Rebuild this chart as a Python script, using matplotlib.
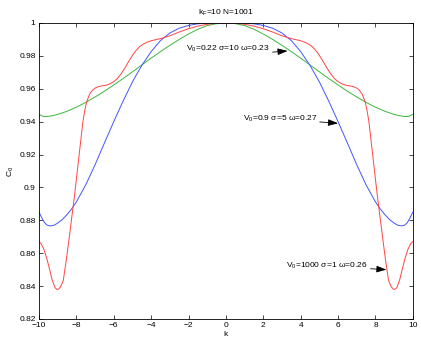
import matplotlib
matplotlib.use("Agg")
import matplotlib.pyplot as plt

plt.rcParams['font.family'] = ['Liberation Sans', 'DejaVu Sans']
plt.rcParams['mathtext.fontset'] = 'custom'
plt.rcParams['mathtext.rm'] = 'Liberation Sans'
plt.rcParams['mathtext.it'] = 'Liberation Sans'

# values (the curves are symmetric in k)
k_green = [-10, -9.75, -9.5, -9.25, -9, -8.5, -8, -7.5, -7, -6.5, -6, -5.5, -5, -4.5, -4, -3.5, -3,
           -2.5, -2, -1.5, -1, -0.5, 0,
           0.5, 1, 1.5, 2, 2.5, 3, 3.5, 4, 4.5, 5, 5.5, 6, 6.5, 7, 7.5, 8, 8.5, 9, 9.25, 9.5, 9.75, 10]
c_green = [0.9444, 0.9431, 0.9432, 0.9437, 0.9444, 0.9463, 0.9488, 0.9517, 0.9550, 0.9585, 0.9623,
           0.9662, 0.9703, 0.9745, 0.9786, 0.9826, 0.9864, 0.9900, 0.9933, 0.9962, 0.9984, 0.9996, 1.0000,
           0.9996, 0.9984, 0.9962, 0.9933, 0.9900, 0.9864, 0.9826, 0.9786, 0.9745, 0.9703, 0.9662, 0.9623,
           0.9585, 0.9550, 0.9517, 0.9488, 0.9463, 0.9444, 0.9437, 0.9432, 0.9431, 0.9444]

k_blue = [-10, -9.85, -9.7, -9.55, -9.4, -9.2, -9, -8.75, -8.5, -8.25, -8, -7.5, -7, -6.5, -6, -5.5, -5,
          -4.5, -4, -3.5, -3, -2.5, -2, -1.5, -1, -0.5, 0,
          0.5, 1, 1.5, 2, 2.5, 3, 3.5, 4, 4.5, 5, 5.5, 6, 6.5, 7, 7.5, 8, 8.25, 8.5, 8.75, 9, 9.2, 9.4,
          9.55, 9.7, 9.85, 10]
c_blue = [0.8850, 0.8815, 0.8785, 0.8770, 0.8766, 0.8770, 0.8783, 0.8805, 0.8835, 0.8870, 0.8912, 0.9015,
          0.9138, 0.9270, 0.9400, 0.9525, 0.9642, 0.9742, 0.9826, 0.9893, 0.9939, 0.9968, 0.9985, 0.9995,
          0.9999, 1.0000, 1.0000,
          1.0000, 0.9999, 0.9995, 0.9985, 0.9968, 0.9939, 0.9893, 0.9826, 0.9742, 0.9642, 0.9525, 0.9400,
          0.9270, 0.9138, 0.9015, 0.8912, 0.8870, 0.8835, 0.8805, 0.8783, 0.8770, 0.8766, 0.8770, 0.8785,
          0.8815, 0.8850]

k_red = [-10, -9.9, -9.75, -9.6, -9.45, -9.3, -9.15, -9.05, -8.95, -8.85, -8.7, -8.55, -8.4, -8.25, -8.1,
         -7.95, -7.8, -7.65, -7.55, -7.45, -7.3, -7.15, -7.0, -6.8, -6.6, -6.4, -6.2, -6.0, -5.8, -5.6,
         -5.4, -5.2, -5.0, -4.8, -4.6, -4.4, -4.2, -4.0, -3.5, -3.0, -2.5, -2.0, -1.5, -1.0, -0.5, 0,
         0.5, 1.0, 1.5, 2.0, 2.5, 3.0, 3.5, 4.0, 4.2, 4.4, 4.6, 4.8, 5.0, 5.2, 5.4, 5.6, 5.8, 6.0, 6.2,
         6.4, 6.6, 6.8, 7.0, 7.15, 7.3, 7.45, 7.55, 7.65, 7.8, 7.95, 8.1, 8.25, 8.4, 8.55, 8.7, 8.85,
         8.95, 9.05, 9.15, 9.3, 9.45, 9.6, 9.75, 9.9, 10]
c_red = [0.8670, 0.8660, 0.8627, 0.8575, 0.8510, 0.8440, 0.8392, 0.8380, 0.8382, 0.8395, 0.8435, 0.8550,
         0.8680, 0.8815, 0.8950, 0.9100, 0.9250, 0.9400, 0.9468, 0.9520, 0.9565, 0.9590, 0.9604, 0.9614,
         0.9618, 0.9622, 0.9630, 0.9643, 0.9663, 0.9692, 0.9727, 0.9766, 0.9803, 0.9834, 0.9858, 0.9873,
         0.9884, 0.9892, 0.9905, 0.9922, 0.9945, 0.9965, 0.9981, 0.9992, 0.9999, 1.0000,
         0.9999, 0.9992, 0.9981, 0.9965, 0.9945, 0.9922, 0.9905, 0.9892, 0.9884, 0.9873, 0.9858, 0.9834,
         0.9803, 0.9766, 0.9727, 0.9692, 0.9663, 0.9643, 0.9630, 0.9622, 0.9618, 0.9614, 0.9604, 0.9590,
         0.9565, 0.9520, 0.9468, 0.9400, 0.9250, 0.9100, 0.8950, 0.8815, 0.8680, 0.8550, 0.8435, 0.8395,
         0.8382, 0.8380, 0.8392, 0.8440, 0.8510, 0.8575, 0.8627, 0.8660, 0.8670]

xticks = list(range(-10, 11, 2))
yticks = [0.82, 0.84, 0.86, 0.88, 0.9, 0.92, 0.94, 0.96, 0.98, 1]
ytick_labels = ['0.82', '0.84', '0.86', '0.88', '0.9', '0.92', '0.94', '0.96', '0.98', '1']

fig = plt.figure(figsize=(4.21, 3.43), dpi=100)
ax = fig.add_axes([0.0926, 0.070, 0.888, 0.863])

ax.plot(k_green, c_green, color='#3cb83c', lw=0.7)
ax.plot(k_blue, c_blue, color='#4455ff', lw=0.7)
ax.plot(k_red, c_red, color='#ff4444', lw=0.7)

ax.set_xlim(-10, 10)
ax.set_ylim(0.82, 1)
ax.set_xticks(xticks)
ax.set_xticklabels([str(t).replace('-', '\u2212') for t in xticks])
ax.set_yticks(yticks)
ax.set_yticklabels(ytick_labels)
ax.tick_params(direction='in', top=True, right=True, labelsize=6, length=3, width=0.5, pad=2.5)
for s in ax.spines.values():
    s.set_linewidth(0.6)

ax.set_xlabel('k', fontsize=6, labelpad=1)
ax.set_ylabel('C$_0$', fontsize=6, labelpad=2)
ax.set_title('k$_F$=10 N=1001', fontsize=6, pad=6)

arrow = dict(arrowstyle='-|>,head_length=0.6,head_width=0.2', color='black', lw=0.6,
             mutation_scale=10, shrinkA=0, shrinkB=0)
ax.annotate('V$_0$=0.22 \u03c3=10 \u03c9=0.23', xy=(3.3, 0.983), xytext=(2.35, 0.9840),
            fontsize=6, ha='right', va='center', arrowprops=dict(arrow, relpos=(1.0, 0.2)))
ax.annotate('V$_0$=0.9 \u03c3=5 \u03c9=0.27', xy=(6.0, 0.939), xytext=(4.87, 0.9418),
            fontsize=6, ha='right', va='center', arrowprops=dict(arrow, relpos=(1.0, 0.2)))
ax.annotate('V$_0$=1000 \u03c3=1 \u03c9=0.26', xy=(8.59, 0.850), xytext=(7.59, 0.8525),
            fontsize=6, ha='right', va='center', arrowprops=dict(arrow, relpos=(1.0, 0.2)))

fig.savefig('out.png', dpi=100)
